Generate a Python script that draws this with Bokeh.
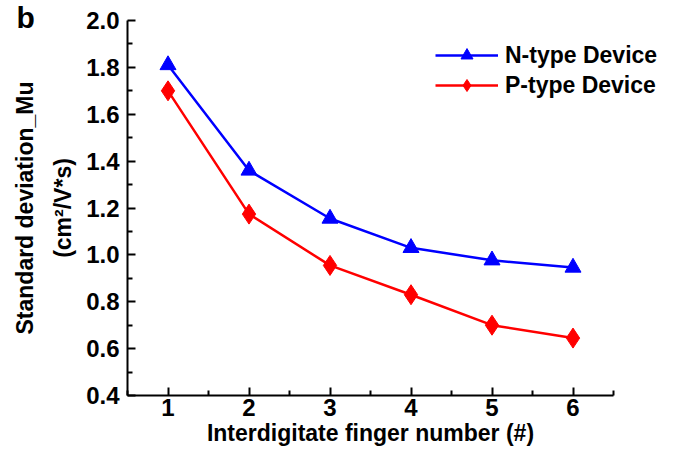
from bokeh.plotting import figure
from bokeh.models import FixedTicker, Legend, LegendItem, Label, Range1d
from bokeh.embed import file_html
from bokeh.resources import INLINE

# Interdigitate finger count vs. standard deviation of mobility
fingers = [1, 2, 3, 4, 5, 6]
n_type = [1.81, 1.36, 1.155, 1.03, 0.977, 0.946]
p_type = [1.70, 1.174, 0.955, 0.83, 0.70, 0.645]

x_ticks = [1, 2, 3, 4, 5, 6]
x_minor = [0.5, 1.5, 2.5, 3.5, 4.5, 5.5, 6.5]
y_ticks = [0.4, 0.6, 0.8, 1.0, 1.2, 1.4, 1.6, 1.8, 2.0]
y_minor = [0.5, 0.7, 0.9, 1.1, 1.3, 1.5, 1.7, 1.9]
x_lim = (0.5, 6.5)
y_lim = (0.4, 2.0)

FONT = "Liberation Sans"
BLUE = "#0000ff"
RED = "#ff0000"

W, H = 674, 456
# pixel box of the axes inside the canvas
AX_L, AX_R, AX_T, AX_B = 127, 613, 20, 395
sx = (AX_R - AX_L) / (x_lim[1] - x_lim[0])
sy = (AX_B - AX_T) / (y_lim[1] - y_lim[0])

# the frame fills the whole canvas; the axes sit at fixed data positions
p = figure(width=W, height=H, output_backend="svg", toolbar_location=None,
           x_range=Range1d(x_lim[0] - AX_L / sx, x_lim[1] + (W - AX_R) / sx),
           y_range=Range1d(y_lim[0] - (H - AX_B) / sy, y_lim[1] + AX_T / sy),
           min_border=0)
p.title.visible = False
p.outline_line_color = None
p.grid.visible = False
p.background_fill_color = "white"
p.border_fill_color = "white"

n_line = p.line(fingers, n_type, line_color=BLUE, line_width=2.5)
n_mark = p.scatter(fingers, n_type, marker="triangle", size=16,
                   fill_color=BLUE, line_color=BLUE)
p_line = p.line(fingers, p_type, line_color=RED, line_width=2.5)
p_mark = p.scatter(fingers, p_type, marker="diamond", size=20,
                   fill_color=RED, line_color=RED)

p.xaxis.fixed_location = y_lim[0]
p.yaxis.fixed_location = x_lim[0]
p.xaxis.bounds = x_lim
p.yaxis.bounds = y_lim

p.axis.axis_line_width = 2
p.axis.major_tick_line_width = 2
p.axis.minor_tick_line_width = 2
p.axis.major_tick_in = 8
p.axis.major_tick_out = 0
p.axis.minor_tick_in = 5
p.axis.minor_tick_out = 0
p.axis.major_label_text_font = FONT
p.axis.major_label_text_font_style = "bold"
p.axis.major_label_text_font_size = "24px"
p.axis.major_label_text_color = "black"
p.axis.axis_label_text_font = FONT
p.axis.axis_label_text_font_style = "bold"
p.axis.axis_label_text_font_size = "23px"
p.axis.axis_label_text_color = "black"

p.xaxis.ticker = FixedTicker(ticks=x_ticks, minor_ticks=x_minor)
p.yaxis.ticker = FixedTicker(ticks=y_ticks, minor_ticks=y_minor)
p.yaxis.major_label_overrides = {v: f"{v:.1f}" for v in y_ticks}
p.xaxis.major_label_standoff = 3
p.yaxis.major_label_standoff = 8
p.xaxis.axis_label = "Interdigitate finger number (#)"
p.yaxis.axis_label = "Standard deviation_Mu\n(cm\u00b2/V*s)"
p.yaxis.axis_label_text_line_height = 1.45
p.xaxis.axis_label_standoff = 1
p.yaxis.axis_label_standoff = 7

legend = Legend(items=[LegendItem(label="N-type Device", renderers=[n_line, n_mark]),
                       LegendItem(label="P-type Device", renderers=[p_line, p_mark])],
                location=(435, H - 100), orientation="vertical",
                background_fill_alpha=0, border_line_color=None,
                padding=0, margin=0, spacing=0,
                glyph_width=63, glyph_height=30, label_height=30,
                label_standoff=7,
                label_text_font=FONT, label_text_font_style="bold",
                label_text_font_size="23px")
p.add_layout(legend)
legend.label_text_color = "black"

panel = Label(x=16, y=H - 33, x_units="screen", y_units="screen", text="b",
              text_font=FONT, text_font_style="bold", text_font_size="30px",
              text_color="black")
p.add_layout(panel)

open("out.html", "w").write(file_html(p, INLINE))
